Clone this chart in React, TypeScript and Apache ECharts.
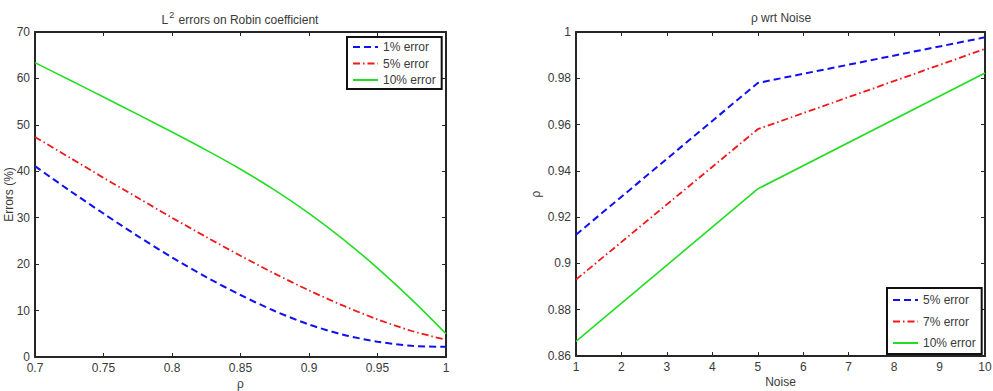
import React, { useEffect, useRef } from "react";
import * as echarts from "echarts";

// Left panel: L2 error (%) of the recovered Robin coefficient against rho
const rhoSamples = [0.7, 0.725, 0.75, 0.775, 0.8, 0.825, 0.85, 0.875, 0.9, 0.925, 0.95, 0.975, 1.0];
const err1pct = [41.1, 35.9, 30.9, 26.05, 21.45, 17.2, 13.35, 9.9, 7.0, 4.8, 3.3, 2.4, 2.2];
const err5pct = [47.4, 43.0, 38.6, 34.3, 30.0, 25.85, 21.8, 17.95, 14.35, 11.05, 8.1, 5.6, 3.7];
const err10pct = [63.4, 59.7, 56.0, 52.25, 48.45, 44.55, 40.45, 35.95, 30.95, 25.35, 19.15, 12.35, 5.0];
const leftLegend = ["1% error", "5% error", "10% error"];

// Right panel: optimal rho against noise level
const noiseLevels = [1, 5, 10];
const rhoErr5 = [0.9124, 0.978, 0.9977];
const rhoErr7 = [0.893, 0.958, 0.9927];
const rhoErr10 = [0.8663, 0.9322, 0.9823];
const rightLegend = ["5% error", "7% error", "10% error"];

// Axis ranges and tick steps
const leftX = { min: 0.7, max: 1, step: 0.05 };
const leftY = { min: 0, max: 70, step: 10 };
const rightX = { min: 1, max: 10, step: 1 };
const rightY = { min: 0.86, max: 1, step: 0.02 };

const FONT = "'Liberation Sans', Arial, Helvetica, sans-serif";
const INK = "#262626";
const LABEL = "#3a3a3a";
const BLUE = "#1010f0";
const RED = "#f01818";
const GREEN = "#22dd22";

const trim = (v: number) => String(parseFloat(v.toFixed(4)));

function axisPair(
  kind: "x" | "y",
  r: { min: number; max: number; step: number },
  name: string,
  nameGap: number
) {
  const base = {
    type: "value",
    min: r.min,
    max: r.max,
    interval: r.step,
    splitLine: { show: false },
    axisLine: { show: true, onZero: false, lineStyle: { color: INK, width: 2 } },
    axisTick: { show: true, inside: true, length: 4, lineStyle: { color: INK, width: 1 } },
  };
  return [
    {
      ...base,
      position: kind === "x" ? "bottom" : "left",
      name,
      nameLocation: "middle",
      nameGap,
      nameMoveOverlap: false,
      nameTextStyle: { color: LABEL, fontSize: 12, fontFamily: FONT },
      axisLabel: {
        color: LABEL,
        fontSize: 12,
        fontFamily: FONT,
        margin: 5,
        formatter: (v: number) => trim(v),
      },
    },
    {
      ...base,
      position: kind === "x" ? "top" : "right",
      axisLabel: { show: false },
    },
  ];
}

function lineSeries(
  name: string,
  xs: number[],
  ys: number[],
  color: string,
  type: any,
  width: number,
  smooth: number | boolean
) {
  return {
    type: "line",
    name,
    data: xs.map((x, i) => [x, ys[i]]),
    showSymbol: false,
    symbol: "none",
    smooth,
    lineStyle: { color, width, type },
    itemStyle: { color },
    emphasis: { disabled: true },
  };
}

const legendBase = {
  orient: "vertical",
  backgroundColor: "#fff",
  borderColor: "#111",
  borderWidth: 2,
  borderRadius: 0,
  itemWidth: 25,
  itemHeight: 10,
  selectedMode: false,
  // legend keys show only the line stroke, no marker
  itemStyle: { opacity: 0 },
  textStyle: { color: LABEL, fontSize: 12, fontFamily: FONT },
};

function titleText(x: number, text: string, rich?: any) {
  return {
    type: "text",
    x,
    y: 18,
    style: {
      text,
      textAlign: "center",
      textVerticalAlign: "middle",
      fill: LABEL,
      fontSize: 12,
      fontFamily: FONT,
      rich,
    },
  };
}

function leftOption() {
  const [xb, xt] = axisPair("x", leftX, "ρ", 21);
  const [yl, yr] = axisPair("y", leftY, "Errors (%)", 20);
  return {
    animation: false,
    grid: { left: 35, top: 32, width: 411, height: 325, outerBoundsMode: "none", containLabel: false },
    xAxis: [xb, xt],
    yAxis: [yl, yr],
    legend: { ...legendBase, data: leftLegend, left: 347, top: 37, itemGap: 4.5, padding: [4, 6, 3, 5] },
    graphic: [
      titleText(240, "{n|L}{s|2}{n| errors on Robin coefficient}", {
        n: { fontSize: 12, fontFamily: FONT, fill: LABEL, lineHeight: 16, verticalAlign: "bottom" },
        s: { fontSize: 9, fontFamily: FONT, fill: LABEL, lineHeight: 16, verticalAlign: "top", padding: [0, 1, 0, 1] },
      }),
    ],
    series: [
      lineSeries(leftLegend[0], rhoSamples, err1pct, BLUE, [7, 4], 2, 0.3),
      lineSeries(leftLegend[1], rhoSamples, err5pct, RED, [7, 3, 1.5, 3], 1.8, 0.3),
      lineSeries(leftLegend[2], rhoSamples, err10pct, GREEN, "solid", 1.6, 0.3),
    ],
  };
}

function rightOption() {
  const [xb, xt] = axisPair("x", rightX, "Noise", 20);
  const [yl, yr] = axisPair("y", rightY, "ρ", 34);
  return {
    animation: false,
    grid: { left: 80, top: 32, width: 409, height: 324, outerBoundsMode: "none", containLabel: false },
    xAxis: [xb, xt],
    yAxis: [yl, yr],
    legend: { ...legendBase, data: rightLegend, left: 391, top: 288, itemGap: 9.5, padding: [6, 6, 5, 5] },
    graphic: [titleText(285, "ρ wrt Noise")],
    series: [
      lineSeries(rightLegend[0], noiseLevels, rhoErr5, BLUE, [7, 4], 2, false),
      lineSeries(rightLegend[1], noiseLevels, rhoErr7, RED, [7, 3, 1.5, 3], 1.8, false),
      lineSeries(rightLegend[2], noiseLevels, rhoErr10, GREEN, "solid", 1.6, false),
    ],
  };
}

function Panel({ left, width, option }: { left: number; width: number; option: () => any }) {
  const ref = useRef<HTMLDivElement>(null);
  useEffect(() => {
    if (!ref.current) return;
    const chart = echarts.init(ref.current, undefined, { renderer: "svg" });
    chart.setOption(option());
    return () => chart.dispose();
  }, [option]);
  return (
    <div
      ref={ref}
      style={{ position: "absolute", left, top: 0, width, height: 391 }}
    />
  );
}

export default function App() {
  return (
    <div style={{ position: "fixed", left: 0, top: 0, width: 993, height: 391, background: "#fff" }}>
      <Panel left={0} width={496} option={leftOption} />
      <Panel left={496} width={497} option={rightOption} />
    </div>
  );
}
